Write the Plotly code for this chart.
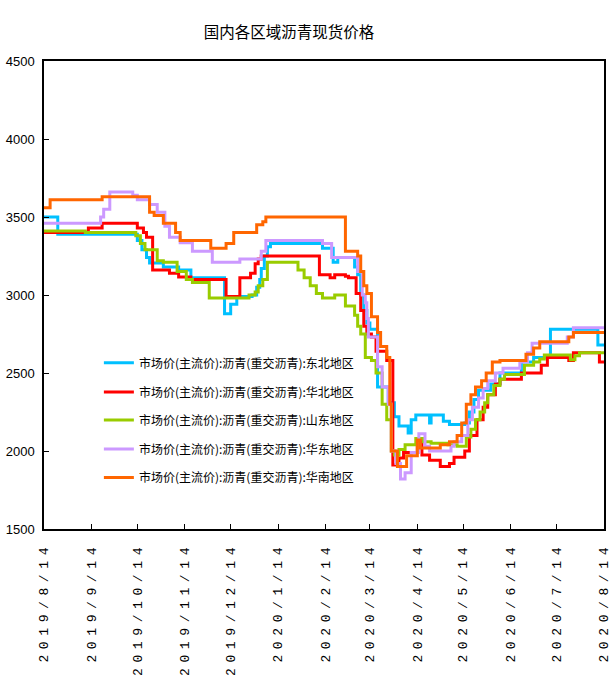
import plotly.graph_objects as go

# ---------------- data ----------------
tick_dates = ["2019-08-14", "2019-09-14", "2019-10-14", "2019-11-14", "2019-12-14",
              "2020-01-14", "2020-02-14", "2020-03-14", "2020-04-14", "2020-05-14",
              "2020-06-14", "2020-07-14", "2020-08-14"]
tick_labels = ["2019/8/14", "2019/9/14", "2019/10/14", "2019/11/14", "2019/12/14",
               "2020/1/14", "2020/2/14", "2020/3/14", "2020/4/14", "2020/5/14",
               "2020/6/14", "2020/7/14", "2020/8/14"]

y_ticks = [1500, 2000, 2500, 3000, 3500, 4000, 4500]

# 东北地区
ne_dates = ["2019-08-14", "2019-08-23", "2019-10-14", "2019-10-17", "2019-10-20", "2019-10-22",
            "2019-10-31", "2019-11-10", "2019-11-18", "2019-12-10", "2019-12-14", "2019-12-18",
            "2019-12-28", "2019-12-31", "2020-01-02", "2020-01-03", "2020-01-05", "2020-01-07",
            "2020-01-09", "2020-02-12", "2020-02-19", "2020-02-22", "2020-03-04", "2020-03-06",
            "2020-03-08", "2020-03-10", "2020-03-12", "2020-03-14", "2020-03-19", "2020-03-26",
            "2020-03-30", "2020-04-02", "2020-04-08", "2020-04-10", "2020-04-13", "2020-04-22",
            "2020-04-23", "2020-05-01", "2020-05-05", "2020-05-15", "2020-05-18", "2020-05-21",
            "2020-05-24", "2020-06-01", "2020-06-07", "2020-06-21", "2020-06-29", "2020-07-10",
            "2020-08-10", "2020-08-14"]
ne_values = [3500, 3390, 3350, 3290, 3240, 3205,
             3180, 3160, 3110, 2880, 2940, 2990,
             3000, 3050, 3100, 3170, 3250, 3310,
             3330, 3300, 3210, 3240, 3180, 3130,
             3000, 2900, 2820, 2780, 2410, 2310,
             2220, 2160, 2115, 2200, 2230, 2180,
             2230, 2190, 2170, 2180, 2250, 2330,
             2390, 2430, 2500, 2570, 2600, 2780,
             2680, 2680]

# 华北地区
nc_dates = ["2019-08-14", "2019-09-12", "2019-09-21", "2019-10-14", "2019-10-18", "2019-10-20",
            "2019-10-24", "2019-11-04", "2019-11-10", "2019-11-18", "2019-12-11", "2019-12-20",
            "2019-12-27", "2019-12-30", "2020-01-01", "2020-01-03", "2020-02-10", "2020-02-17",
            "2020-02-20", "2020-02-27", "2020-02-29", "2020-03-05", "2020-03-08", "2020-03-10",
            "2020-03-12", "2020-03-15", "2020-03-18", "2020-03-25", "2020-03-29", "2020-04-02",
            "2020-04-05", "2020-04-14", "2020-04-17", "2020-04-22", "2020-04-29", "2020-05-05",
            "2020-05-08", "2020-05-15", "2020-05-18", "2020-05-23", "2020-05-27", "2020-05-30",
            "2020-06-04", "2020-06-07", "2020-06-21", "2020-07-04", "2020-07-08", "2020-07-22",
            "2020-07-25", "2020-08-11", "2020-08-14"]
nc_values = [3400, 3430, 3460, 3430, 3400, 3370,
             3160, 3140, 3115, 3100, 2990, 3110,
             3140, 3200, 3230, 3250, 3130, 3110,
             3130, 3120, 3110, 3010, 2900, 2800,
             2750, 2730, 2640, 2580, 1910, 1955,
             1990, 2060, 1975, 1940, 1900, 1920,
             1960, 2000, 2100, 2200, 2280, 2360,
             2430, 2460, 2500, 2550, 2600, 2580,
             2630, 2570, 2570]

# 山东地区
sd_dates = ["2019-08-14", "2019-09-10", "2019-10-13", "2019-10-16", "2019-10-19", "2019-10-27",
            "2019-10-31", "2019-11-09", "2019-11-15", "2019-11-19", "2019-11-30", "2019-12-26",
            "2019-12-30", "2020-01-01", "2020-01-04", "2020-01-07", "2020-01-23", "2020-01-27",
            "2020-01-31", "2020-02-04", "2020-02-08", "2020-02-12", "2020-02-20", "2020-02-27",
            "2020-03-04", "2020-03-06", "2020-03-08", "2020-03-11", "2020-03-15", "2020-03-18",
            "2020-03-22", "2020-03-25", "2020-03-28", "2020-03-30", "2020-04-02", "2020-04-06",
            "2020-04-13", "2020-04-18", "2020-04-23", "2020-05-04", "2020-05-10", "2020-05-16",
            "2020-05-19", "2020-05-22", "2020-05-25", "2020-05-28", "2020-05-30", "2020-06-03",
            "2020-06-07", "2020-06-10", "2020-06-23", "2020-06-29", "2020-07-03", "2020-07-06",
            "2020-07-23", "2020-07-26", "2020-07-29", "2020-08-14"]
sd_values = [3410, 3400, 3380, 3330, 3290, 3220,
             3210, 3150, 3100, 3080, 2980, 3000,
             3020, 3060, 3100, 3210, 3210, 3160,
             3110, 3060, 3010, 2980, 3000, 2930,
             2870, 2800, 2750, 2600, 2580, 2500,
             2300, 2200, 2000, 1975, 2010, 2040,
             2080, 2060, 2050, 2040, 2030, 2090,
             2140, 2200, 2250, 2310, 2360, 2420,
             2460, 2490, 2550, 2570, 2590, 2615,
             2585, 2610, 2630, 2630]

# 华东地区
ec_dates = ["2019-08-14", "2019-09-20", "2019-09-22", "2019-09-26", "2019-10-11", "2019-10-14",
            "2019-10-22", "2019-10-27", "2019-11-01", "2019-11-04", "2019-11-11", "2019-11-19",
            "2019-12-02", "2019-12-20", "2020-01-03", "2020-01-06", "2020-02-12", "2020-02-18",
            "2020-03-06", "2020-03-09", "2020-03-11", "2020-03-12", "2020-03-13", "2020-03-19",
            "2020-03-22", "2020-03-26", "2020-03-28", "2020-03-31", "2020-04-03", "2020-04-06",
            "2020-04-10", "2020-04-15", "2020-04-19", "2020-04-22", "2020-05-06", "2020-05-08",
            "2020-05-13", "2020-05-17", "2020-05-20", "2020-05-24", "2020-05-27", "2020-05-30",
            "2020-06-04", "2020-06-09", "2020-06-20", "2020-06-25", "2020-06-28", "2020-07-21",
            "2020-07-25", "2020-08-14"]
ec_values = [3460, 3500, 3550, 3660, 3640, 3610,
             3580, 3530, 3440, 3370, 3335, 3280,
             3210, 3230, 3280, 3350, 3330, 3240,
             3150, 3000, 2950, 2850, 2730, 2540,
             2410, 2300, 2000, 1920, 1820, 1860,
             1990, 2110, 2030, 2000, 2030, 2060,
             2100, 2200, 2280, 2340, 2400, 2450,
             2500, 2530, 2570, 2630, 2690, 2730,
             2790, 2790]

# 华南地区
sc_dates = ["2019-08-14", "2019-08-18", "2019-09-21", "2019-10-22", "2019-10-25", "2019-10-31",
            "2019-11-08", "2019-11-11", "2019-12-01", "2019-12-11", "2019-12-16", "2019-12-31",
            "2020-01-04", "2020-01-06", "2020-02-27", "2020-03-06", "2020-03-08", "2020-03-10",
            "2020-03-12", "2020-03-15", "2020-03-19", "2020-03-21", "2020-03-25", "2020-03-27",
            "2020-03-28", "2020-04-01", "2020-04-07", "2020-04-14", "2020-04-16", "2020-04-29",
            "2020-05-05", "2020-05-10", "2020-05-13", "2020-05-16", "2020-05-19", "2020-05-22",
            "2020-05-26", "2020-05-29", "2020-06-02", "2020-06-07", "2020-06-24", "2020-06-29",
            "2020-07-03", "2020-07-22", "2020-07-25", "2020-08-14"]
sc_values = [3560, 3610, 3630, 3530, 3510, 3460,
             3400, 3350, 3300, 3330, 3400, 3450,
             3470, 3500, 3280, 3250, 3150, 3060,
             3010, 2860, 2760, 2670, 2600, 2300,
             2000, 1900, 1970, 2070, 2020, 2040,
             2060, 2100, 2180, 2300, 2360, 2410,
             2450, 2500, 2570, 2580, 2620, 2660,
             2700, 2730, 2760, 2760]

series = [
    ("市场价(主流价):沥青(重交沥青):东北地区", ne_dates, ne_values, "#00C0FF"),
    ("市场价(主流价):沥青(重交沥青):华北地区", nc_dates, nc_values, "#FF0000"),
    ("市场价(主流价):沥青(重交沥青):山东地区", sd_dates, sd_values, "#99CC00"),
    ("市场价(主流价):沥青(重交沥青):华东地区", ec_dates, ec_values, "#CC99FF"),
    ("市场价(主流价):沥青(重交沥青):华南地区", sc_dates, sc_values, "#FF6600"),
]

# ---------------- figure ----------------
fig = go.Figure()
legend_names = ["legend", "legend2", "legend3", "legend4", "legend5"]
legend_rows = [0.355, 0.293, 0.233, 0.171, 0.110]

for (name, d, v, c), lg in zip(series, legend_names):
    fig.add_trace(go.Scatter(
        x=d, y=v, name=name, mode="lines",
        line=dict(color=c, width=3, shape="hv"),
        legend=lg,
    ))

legend_font = dict(family="Noto Sans CJK SC", size=12, color="#000000")
layout_legends = {}
for lg, yy in zip(legend_names, legend_rows):
    layout_legends[lg] = dict(
        x=0.098, y=yy, xanchor="left", yanchor="middle",
        bgcolor="rgba(0,0,0,0)", borderwidth=0, font=legend_font,
        itemwidth=30, tracegroupgap=0,
    )

tick_text = ['<span style="letter-spacing:5.6px">%s</span>' % t for t in tick_labels]

fig.update_layout(
    template="none",
    width=611, height=682,
    margin=dict(l=44, r=7, t=61, b=153, autoexpand=False),
    paper_bgcolor="white", plot_bgcolor="white",
    showlegend=True,
    title=dict(text="国内各区域沥青现货价格", x=0.473, xref="container", xanchor="center",
               y=1 - 33 / 682, yref="container", yanchor="middle",
               font=dict(family="Noto Sans CJK SC", size=15.5, color="#000000")),
    xaxis=dict(
        type="date", range=["2019-08-14", "2020-08-14"], automargin=False,
        tickmode="array", tickvals=tick_dates, ticktext=tick_text,
        tickangle=-90, ticks="inside", ticklen=5, tickcolor="#000000",
        showline=True, linecolor="#000000", linewidth=1.5, mirror=True,
        showgrid=False, zeroline=False, ticklabeloverflow="allow",
        tickfont=dict(family="Liberation Mono", size=13, color="#000000"),
        ticklabelstandoff=6,
    ),
    yaxis=dict(
        range=[1500, 4500], tickmode="array", tickvals=y_ticks, automargin=False,
        ticks="inside", ticklen=5, tickcolor="#000000",
        showline=True, linecolor="#000000", linewidth=1.5, mirror=True,
        showgrid=False, zeroline=False, ticklabeloverflow="allow",
        tickfont=dict(family="Liberation Sans", size=13, color="#000000"),
        ticklabelstandoff=5,
    ),
    **layout_legends,
)

# remove the browser's default 8px page margin so the figure fills the window exactly
fig.write_html("out.html", config={"displayModeBar": False},
               post_script="document.body.style.margin='0';")
